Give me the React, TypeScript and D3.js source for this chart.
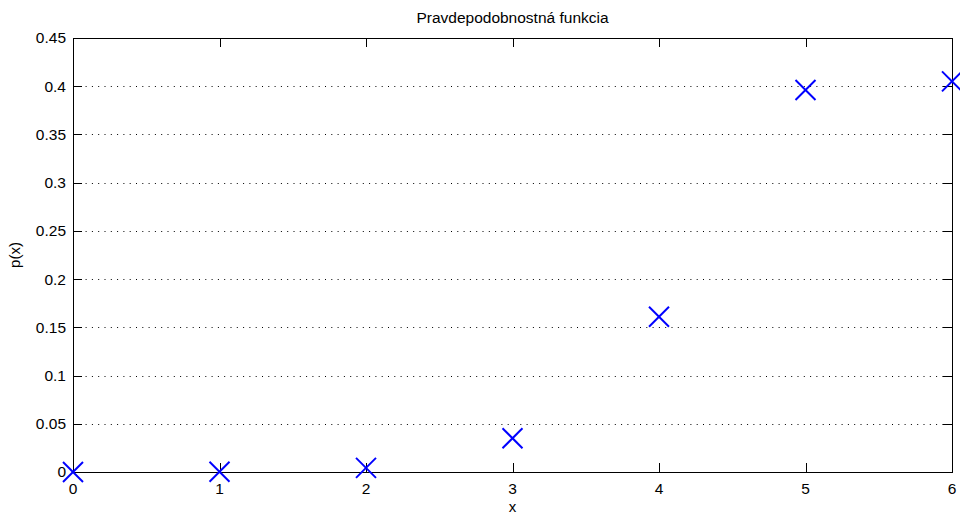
import * as d3 from "d3";

const xValues = [0, 1, 2, 3, 4, 5, 6];
const probabilities = [0.0, 0.0003, 0.0043, 0.035, 0.161, 0.396, 0.405];
const yTicks = [0, 0.05, 0.1, 0.15, 0.2, 0.25, 0.3, 0.35, 0.4, 0.45];
const xTicks = [0, 1, 2, 3, 4, 5, 6];

const W = 960;
const H = 517;
const margin = { top: 38, right: 8, bottom: 45, left: 73 };
const FONT = "'Liberation Sans', Arial, Helvetica, sans-serif";

export default function App() {
  const plotW = W - margin.left - margin.right;
  const plotH = H - margin.top - margin.bottom;

  const x = d3.scaleLinear().domain([0, 6]).range([0, plotW]);
  const y = d3.scaleLinear().domain([0, 0.45]).range([plotH, 0]);

  const tickLen = 9;
  const m = 10; // marker half-size

  return (
    <div style={{ position: "fixed", left: 0, top: 0 }}>
      <svg width={W} height={H} style={{ display: "block", background: "#fff" }}>
        <text
          x={margin.left + plotW / 2}
          y={23}
          textAnchor="middle"
          fontFamily={FONT}
          fontSize={15.5}
          fill="#000"
        >
          Pravdepodobnostná funkcia
        </text>
        <g transform={`translate(${margin.left},${margin.top})`}>
          {/* horizontal dotted grid */}
          {yTicks.map((t) =>
            t === 0 || t === 0.45 ? null : (
              <line
                key={"g" + t}
                x1={0}
                x2={plotW}
                y1={Math.round(y(t)) + 0.5}
                y2={Math.round(y(t)) + 0.5}
                stroke="#000"
                strokeWidth={1}
                strokeDasharray="1,5.3"
              />
            )
          )}
          {/* y ticks left & right */}
          {yTicks.map((t) => (
            <g key={"y" + t}>
              <line x1={0} x2={tickLen} y1={Math.round(y(t)) + 0.5} y2={Math.round(y(t)) + 0.5} stroke="#000" />
              <line x1={plotW - tickLen} x2={plotW} y1={Math.round(y(t)) + 0.5} y2={Math.round(y(t)) + 0.5} stroke="#000" />
              <text
                x={-7}
                y={y(t)}
                dy="0.35em"
                textAnchor="end"
                fontFamily={FONT}
                fontSize={15.5}
                fill="#000"
              >
                {String(t)}
              </text>
            </g>
          ))}
          {/* x ticks bottom & top */}
          {xTicks.map((t) => (
            <g key={"x" + t}>
              <line x1={Math.round(x(t)) + 0.5} x2={Math.round(x(t)) + 0.5} y1={plotH} y2={plotH - tickLen} stroke="#000" />
              <line x1={Math.round(x(t)) + 0.5} x2={Math.round(x(t)) + 0.5} y1={0} y2={tickLen} stroke="#000" />
              <text
                x={x(t)}
                y={plotH + 22}
                textAnchor="middle"
                fontFamily={FONT}
                fontSize={15.5}
                fill="#000"
              >
                {String(t)}
              </text>
            </g>
          ))}
          {/* axes box */}
          <rect x={0.5} y={0.5} width={plotW} height={plotH} fill="none" stroke="#000" strokeWidth={1} />
          {/* markers */}
          {xValues.map((v, i) => {
            const cx = x(v);
            const cy = y(probabilities[i]);
            return (
              <g key={"m" + v} stroke="#0000ff" strokeWidth={2}>
                <line x1={cx - m} y1={cy - m} x2={cx + m} y2={cy + m} />
                <line x1={cx - m} y1={cy + m} x2={cx + m} y2={cy - m} />
              </g>
            );
          })}
          {/* axis labels */}
          <text
            x={plotW / 2}
            y={plotH + 40}
            textAnchor="middle"
            fontFamily={FONT}
            fontSize={15}
            fill="#000"
          >
            x
          </text>
          <text
            transform={`translate(${-53},${plotH / 2}) rotate(-90)`}
            textAnchor="middle"
            fontFamily={FONT}
            fontSize={15}
            fill="#000"
          >
            p(x)
          </text>
        </g>
      </svg>
    </div>
  );
}
